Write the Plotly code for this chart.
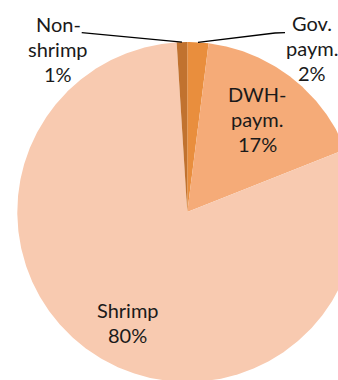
import numpy as np
import plotly.graph_objects as go

# Revenue shares, listed clockwise starting at 12 o'clock
categories = ["Gov. paym.", "DWH-paym.", "Shrimp", "Non-shrimp"]
label_lines = [["Gov.", "paym."], ["DWH-", "paym."], ["Shrimp"], ["Non-", "shrimp"]]
shares = [2, 17, 80, 1]
colors = ["#E98E3D", "#F5AB78", "#F8CAB0", "#C1722F"]

# Canvas geometry (pixel units on both axes)
W, H = 338, 380
CX, CY, R = 187.3, 212.0, 170.0

# Label block placement: centre x and first-line baseline y
label_x = [311.7, 257.0, 127.5, 58.3]
label_base = [31.0, 101.7, 317.7, 31.7]
LINE_STEP = 25.0
FONT = "Lato, 'Open Sans', sans-serif"
FSIZE = 20

# Leader line elbows for the labels placed outside the pie
leader_elbows = {0: [(275.0, 33.0), (285.0, 32.7)], 3: [(95.0, 33.3), (81.7, 32.7)]}


def rim_point(frac):
    """Point on the rim at a cumulative fraction (clockwise from top)."""
    a = 2 * np.pi * frac
    return CX + R * np.sin(a), CY - R * np.cos(a)


fig = go.Figure()

total = float(sum(shares))
start = 0.0
mids = []
for name, val, col in zip(categories, shares, colors):
    frac = val / total
    ts = np.linspace(start, start + frac, max(int(frac * 720), 4))
    xs = [CX] + [CX + R * np.sin(2 * np.pi * t) for t in ts] + [CX]
    ys = [CY] + [CY - R * np.cos(2 * np.pi * t) for t in ts] + [CY]
    fig.add_trace(go.Scatter(
        x=xs, y=ys, mode="lines", fill="toself", fillcolor=col,
        line=dict(width=0, color=col), name=name, hoverinfo="name",
        showlegend=False,
    ))
    mids.append(start + frac / 2)
    start += frac

# Leader lines from the outside labels to the middle of their slices
for idx, elbows in leader_elbows.items():
    px, py = rim_point(mids[idx])
    lx = [px] + [e[0] for e in elbows]
    ly = [py] + [e[1] for e in elbows]
    fig.add_trace(go.Scatter(
        x=lx, y=ly, mode="lines", line=dict(color="#000000", width=1.3),
        hoverinfo="skip", showlegend=False,
    ))

# Category and percentage labels
annotations = []
for i, lines in enumerate(label_lines):
    rows = lines + [f"{shares[i]}%"]
    for k, row in enumerate(rows):
        base = label_base[i] + k * LINE_STEP
        annotations.append(dict(
            x=label_x[i], y=base - 0.39 * FSIZE, xref="x", yref="y",
            text=row, showarrow=False, xanchor="center", yanchor="middle",
            font=dict(family=FONT, size=FSIZE, color="#1a1a1a"),
        ))

fig.update_layout(
    width=W, height=H,
    margin=dict(l=0, r=0, t=0, b=0),
    paper_bgcolor="#FFFFFF", plot_bgcolor="#FFFFFF",
    xaxis=dict(range=[0, W], visible=False, fixedrange=True),
    yaxis=dict(range=[H, 0], visible=False, fixedrange=True),
    annotations=annotations,
)

fig.write_html("out.html")
